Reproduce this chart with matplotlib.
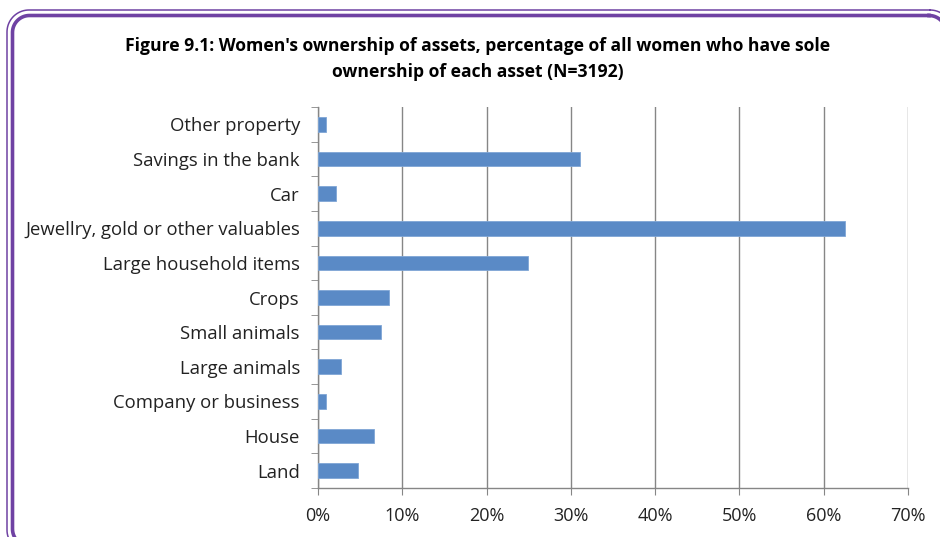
import matplotlib
matplotlib.use("Agg")
import matplotlib.pyplot as plt
import numpy as np

# Data (bottom to top, as drawn)
assets = ["Land", "House", "Company or business", "Large animals", "Small animals",
          "Crops", "Large household items", "Jewellry, gold or other valuables",
          "Car", "Savings in the bank", "Other property"]
share = [4.7, 6.7, 1.0, 2.7, 7.5, 8.4, 24.9, 62.5, 2.1, 31.1, 0.9]
xticks = [0, 10, 20, 30, 40, 50, 60, 70]

title = ("Figure 9.1: Women's ownership of assets, percentage of all women who have sole\n"
         "ownership of each asset (N=3192)")

plt.rcParams["font.family"] = ["Open Sans", "DejaVu Sans"]
grid_col = "#868686"
bar_col = "#5A8AC6"
purple = "#6F42A3"
W, H = 940, 537


def rounded_rect(x0, y0, x1, y1, r):
    # outline of a rounded rectangle, pixel coords (y down)
    t = np.linspace(0, np.pi / 2, 20)
    pts = []
    for cx, cy, a0 in [(x1 - r, y0 + r, -np.pi / 2), (x1 - r, y1 - r, 0),
                       (x0 + r, y1 - r, np.pi / 2), (x0 + r, y0 + r, np.pi)]:
        a = a0 + t
        pts.append(np.column_stack([cx + r * np.cos(a), cy + r * np.sin(a)]))
    pts = np.vstack(pts + [pts[0][:1]])
    return pts[:, 0], pts[:, 1]


fig = plt.figure(figsize=(W / 100, H / 100), dpi=100)

# purple double frame, runs off the right and bottom edges
bg = fig.add_axes([0, 0, 1, 1])
bg.set_xlim(0, W)
bg.set_ylim(H, 0)
bg.axis("off")
fx, fy = rounded_rect(7, 10, 952, 552, 22)
bg.plot(fx, fy, color=purple, lw=1.1)
fx, fy = rounded_rect(12.5, 15.5, 946, 546, 17)
bg.plot(fx, fy, color=purple, lw=2.6)

fig.text(478 / W, 1 - 59 / H, title, ha="center", va="center", fontsize=12.6,
         fontweight="bold", linespacing=1.55)

ax = fig.add_axes([318 / W, 1 - 488 / H, 590 / W, 381 / H])
y = np.arange(len(assets))
ax.barh(y, share, height=0.42, color=bar_col, edgecolor="#7FA6D6", lw=0.6, zorder=3)

ax.set_xlim(0, 70)
ax.set_ylim(-0.5, len(assets) - 0.5)
ax.set_xticks(xticks)
ax.set_xticklabels([f"{t}%" for t in xticks], fontsize=13, color="#222222")
ax.set_yticks(y)
ax.set_yticklabels(assets, fontsize=13.3, color="#222222")
ax.set_yticks(np.arange(len(assets) + 1) - 0.5, minor=True)
ax.tick_params(axis="y", which="major", length=0, pad=13)
ax.tick_params(axis="y", which="minor", length=5, color=grid_col, direction="out")
ax.tick_params(axis="x", length=5, color=grid_col, pad=9)
ax.grid(axis="x", color=grid_col, lw=1.0, zorder=0)
for s in ["top", "right"]:
    ax.spines[s].set_visible(False)
for s in ["left", "bottom"]:
    ax.spines[s].set_color(grid_col)
    ax.spines[s].set_linewidth(1.0)

plt.savefig("out.png", dpi=100)
